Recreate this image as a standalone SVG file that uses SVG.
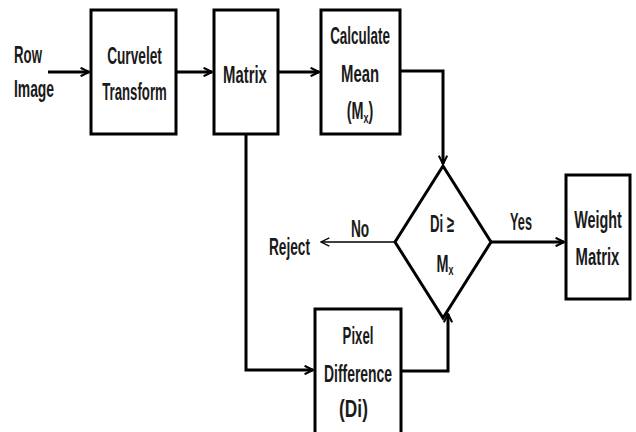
<svg xmlns="http://www.w3.org/2000/svg" width="636" height="432" viewBox="0 0 636 432">
<style>
.box{fill:#fff;stroke:#000;stroke-width:3}
.t{font-family:"Liberation Sans",Arial,sans-serif;font-weight:bold;font-size:24px;fill:#1a1a1a;text-anchor:middle}
.c{stroke:#000;stroke-width:3;fill:none}
.thin{stroke:#000;stroke-width:1.3;fill:none}
</style>
<defs>
<marker id="ah" viewBox="0 0 10 10" refX="9" refY="5" markerWidth="3.5" markerHeight="3.5" orient="auto" markerUnits="strokeWidth">
<path d="M1,1 L9,5 L1,9" fill="none" stroke="#000" stroke-width="2"/>
</marker>
<marker id="ah2" viewBox="0 0 10 10" refX="9" refY="5" markerWidth="8" markerHeight="8" orient="auto" markerUnits="strokeWidth">
<path d="M1,1 L9,5 L1,9" fill="none" stroke="#000" stroke-width="1.2"/>
</marker>
</defs>
<rect width="636" height="432" fill="#fff"/>
<g id="connectors">
<path class="c" d="M48,72 H89" marker-end="url(#ah)"/>
<path class="c" d="M176,72 H212" marker-end="url(#ah)"/>
<path class="c" d="M278,72 H319" marker-end="url(#ah)"/>
<path class="c" d="M400,71 H443 V164" marker-end="url(#ah)"/>
<path class="c" d="M491,242 L564,242" marker-end="url(#ah)" stroke-width="4"/>
<path class="thin" d="M395,242 H321" marker-end="url(#ah2)"/>
<path class="c" d="M246,134 V370 H313" marker-end="url(#ah)"/>
<path class="c" d="M401,371 H448 V314" marker-end="url(#ah)"/>
</g>
<g id="row-image">
<text class="t" transform="translate(28,63) scale(0.55,1)">Row</text>
<text class="t" transform="translate(34,97) scale(0.58,1)">Image</text>
</g>
<g id="curvelet">
<rect class="box" x="91" y="10" width="85" height="124"/>
<text class="t" transform="translate(134.5,64) scale(0.57,1)">Curvelet</text>
<text class="t" transform="translate(134.5,100) scale(0.55,1)">Transform</text>
</g>
<g id="matrix">
<rect class="box" x="214" y="10" width="64" height="124"/>
<text class="t" transform="translate(245,83) scale(0.62,1)">Matrix</text>
</g>
<g id="calc-mean">
<rect class="box" x="321" y="10" width="79" height="124"/>
<text class="t" transform="translate(360,44) scale(0.56,1)">Calculate</text>
<text class="t" transform="translate(360,82) scale(0.62,1)">Mean</text>
<text class="t" transform="translate(360,119) scale(0.6,1)">(M<tspan font-size="15" dy="4">x</tspan><tspan dy="-4">)</tspan></text>
</g>
<g id="decision">
<polygon points="443,166 491,242 443,318 395,242" fill="#fff" stroke="#000" stroke-width="3"/>
<text class="t" transform="translate(442,232) scale(0.55,1)">Di ≥</text>
<text class="t" transform="translate(445,272) scale(0.6,1)">M<tspan font-size="15" dy="3">x</tspan></text>
</g>
<g id="yes-label"><text class="t" transform="translate(521,230) scale(0.53,1)">Yes</text></g>
<g id="no-label"><text class="t" transform="translate(360,237) scale(0.57,1)">No</text></g>
<g id="reject"><text class="t" transform="translate(289.5,255) scale(0.57,1)">Reject</text></g>
<g id="weight-matrix">
<rect class="box" x="566" y="175" width="64" height="124"/>
<text class="t" transform="translate(598,228) scale(0.6,1)">Weight</text>
<text class="t" transform="translate(597.5,265) scale(0.62,1)">Matrix</text>
</g>
<g id="pixel-diff">
<rect class="box" x="315" y="309" width="86" height="130"/>
<text class="t" transform="translate(358,344) scale(0.55,1)">Pixel</text>
<text class="t" transform="translate(358,382) scale(0.58,1)">Difference</text>
<text class="t" transform="translate(353.5,417) scale(0.72,1)">(Di)</text>
</g>
</svg>
